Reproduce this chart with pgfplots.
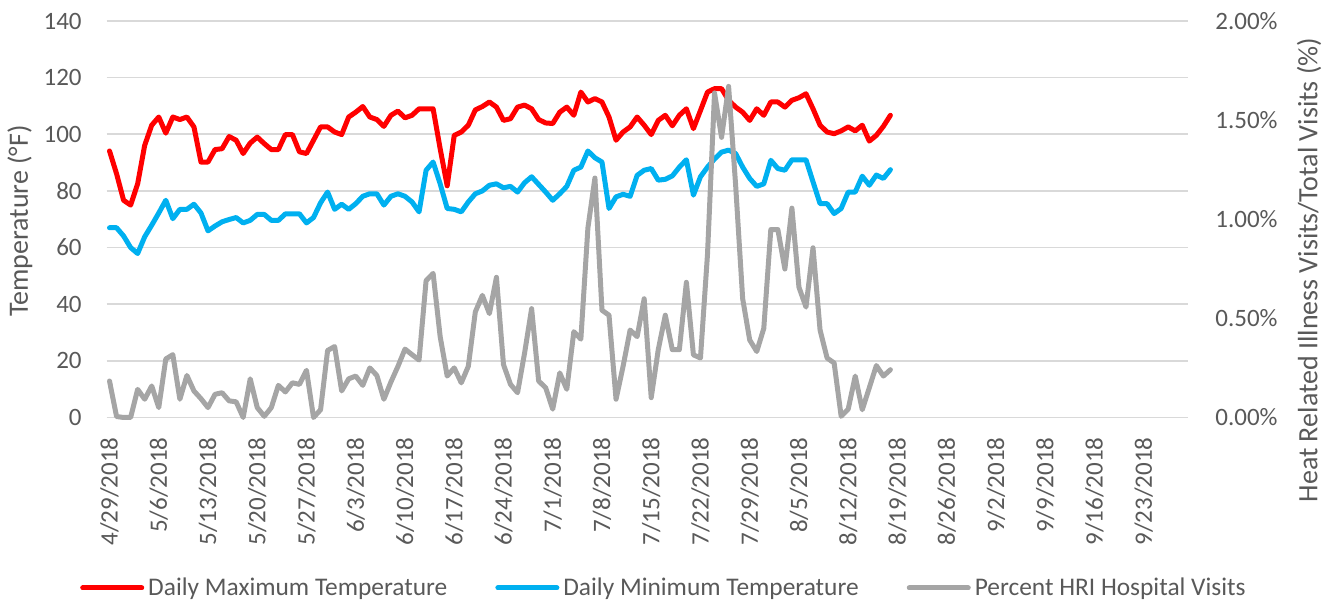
\documentclass[border=0pt]{standalone}
\usepackage{pgfplots}
\pgfplotsset{compat=1.18}
\usepackage{fontspec}
\setmainfont{Carlito}
\definecolor{txt}{HTML}{595959}
\definecolor{gridc}{HTML}{D9D9D9}
\definecolor{cmax}{HTML}{FF0000}
\definecolor{cmin}{HTML}{00B0F0}
\definecolor{chri}{HTML}{A5A5A5}
\pgfplotstableread{
d tmax tmin
0 94.1 67.0
1 86.1 67.0
2 76.7 64.1
3 75.0 60.0
4 82.5 57.9
5 96.1 63.8
6 103.2 67.9
7 106.1 72.2
8 100.4 76.7
9 106.1 70.2
10 105.2 73.5
11 106.1 73.5
12 102.6 75.3
13 90.2 72.2
14 90.2 65.9
15 94.6 67.6
16 94.9 69.1
17 99.2 69.9
18 97.9 70.6
19 93.2 68.7
20 96.9 69.6
21 99.0 71.7
22 96.7 71.7
23 94.6 69.6
24 94.6 69.6
25 99.9 71.9
26 99.9 71.9
27 93.8 71.9
28 93.2 68.7
29 97.9 70.6
30 102.6 75.8
31 102.6 79.6
32 100.8 73.5
33 99.9 75.3
34 106.1 73.5
35 107.8 75.5
36 109.8 78.1
37 106.1 79.0
38 105.2 79.0
39 102.8 75.0
40 106.7 78.1
41 108.2 79.0
42 105.8 78.1
43 106.7 76.1
44 109.0 72.6
45 109.0 87.3
46 109.0 90.2
47 94.9 82.5
48 81.8 73.8
49 99.6 73.5
50 100.8 72.6
51 103.2 76.1
52 108.6 79.0
53 109.8 80.0
54 111.4 82.0
55 109.6 82.5
56 104.9 81.1
57 105.5 81.6
58 109.6 79.6
59 110.3 82.9
60 109.0 85.0
61 105.2 82.3
62 104.0 79.6
63 103.8 76.7
64 107.8 79.0
65 109.6 81.6
66 106.7 87.3
67 114.9 88.4
68 111.4 94.1
69 112.6 91.7
70 111.4 90.2
71 106.1 73.8
72 97.9 77.9
73 100.8 78.8
74 102.6 78.1
75 106.1 85.5
76 103.2 87.3
77 99.9 87.9
78 104.9 83.8
79 106.7 84.1
80 103.0 85.3
81 106.7 88.4
82 109.0 91.0
83 102.0 78.5
84 108.4 85.0
85 114.9 88.4
86 116.1 91.3
87 116.1 93.7
88 112.0 94.4
89 109.6 93.2
90 107.8 88.4
91 104.9 84.4
92 109.0 81.6
93 106.7 82.5
94 111.4 90.8
95 111.4 87.9
96 109.6 87.3
97 112.0 91.0
98 112.9 91.0
99 114.3 91.0
100 109.0 83.2
101 103.2 75.5
102 100.8 75.5
103 100.2 72.0
104 101.2 73.8
105 102.6 79.6
106 101.2 79.6
107 103.2 85.2
108 97.6 82.0
109 99.6 85.6
110 102.8 84.4
111 106.7 87.5
}\temps
\pgfplotstableread{
d hri
0 0.184
1 0.005
2 0.0
3 0.0
4 0.142
5 0.092
6 0.159
7 0.05
8 0.295
9 0.317
10 0.092
11 0.212
12 0.134
13 0.095
14 0.05
15 0.117
16 0.125
17 0.084
18 0.079
19 0.0
20 0.195
21 0.05
22 0.006
23 0.05
24 0.162
25 0.129
26 0.175
27 0.167
28 0.238
29 0.0
30 0.039
31 0.338
32 0.358
33 0.134
34 0.195
35 0.209
36 0.162
37 0.25
38 0.212
39 0.092
40 0.179
41 0.258
42 0.345
43 0.317
44 0.29
45 0.69
46 0.727
47 0.408
48 0.209
49 0.25
50 0.175
51 0.258
52 0.533
53 0.616
54 0.524
55 0.707
56 0.267
57 0.167
58 0.125
59 0.325
60 0.549
61 0.184
62 0.15
63 0.042
64 0.225
65 0.142
66 0.433
67 0.395
68 0.956
69 1.208
70 0.541
71 0.516
72 0.092
73 0.258
74 0.441
75 0.408
76 0.599
77 0.1
78 0.342
79 0.516
80 0.342
81 0.342
82 0.682
83 0.316
84 0.3
85 0.823
86 1.637
87 1.413
88 1.67
89 1.172
90 0.599
91 0.391
92 0.333
93 0.449
94 0.948
95 0.948
96 0.749
97 1.056
98 0.657
99 0.557
100 0.856
101 0.441
102 0.3
103 0.275
104 0.006
105 0.042
106 0.209
107 0.039
108 0.15
109 0.262
110 0.209
111 0.241
}\hri
\begin{document}
\begin{tikzpicture}
\path[use as bounding box] (-53.35pt,-92.75pt) rectangle (611.65pt,208.75pt);
\pgfplotsset{
  base/.style={
    width=540.65pt, height=198.25pt, scale only axis,
    at={(0pt,0pt)}, anchor=south west,
    xmin=-0.4, xmax=153.3,
    axis line style={draw=none}, major tick length=0pt,
    tick label style={font=\fontsize{12.5}{15}\selectfont, text=txt},
    label style={font=\fontsize{14}{17}\selectfont, text=txt},
    /pgf/number format/assume math mode=true,
    clip=false,
  },
  ln/.style={line width=2.5pt, line join=round, line cap=round},
}
\begin{axis}[base,
  ymin=0, ymax=140, ytick={0,20,...,140},
  ymajorgrids, grid style={draw=gridc, line width=0.8pt},
  xtick={0,7,...,147},
  xticklabels={4/29/2018,5/6/2018,5/13/2018,5/20/2018,5/27/2018,6/3/2018,6/10/2018,6/17/2018,6/24/2018,7/1/2018,7/8/2018,7/15/2018,7/22/2018,7/29/2018,8/5/2018,8/12/2018,8/19/2018,8/26/2018,9/2/2018,9/9/2018,9/16/2018,9/23/2018},
  yticklabel style={anchor=east, inner sep=0pt, xshift=-12.35pt},
  xticklabel style={rotate=90, anchor=east, inner sep=0pt, xshift=-9.75pt},
  ylabel={Temperature (°F)},
  ylabel style={at={(axis description cs:-0.0802,0.4956)}, rotate=0, anchor=center, inner sep=0pt},
]
\addplot[ln, cmax] table[x=d, y=tmax] {\temps};
\addplot[ln, cmin] table[x=d, y=tmin] {\temps};
\end{axis}
\begin{axis}[base,
  ymin=0, ymax=2, ytick={0,0.5,1,1.5,2},
  yticklabels={0.00\%,0.50\%,1.00\%,1.50\%,2.00\%},
  yticklabel pos=right,
  hide x axis,
  yticklabel style={anchor=west, inner sep=0pt, xshift=13.5pt},
  ylabel={Heat Related Illness Visits/Total Visits (\%)},
  ylabel style={at={(axis description cs:1.1119,0.372)}, rotate=0, anchor=center, inner sep=0pt},
  legend columns=3,
  legend style={at={(axis description cs:0.5163,-0.43)}, anchor=center, draw=none, fill=none,
    font=\fontsize{12.7}{15}\selectfont, text=txt, inner sep=0pt,
    /tikz/every even column/.append style={column sep=22pt},
    nodes={inner sep=2pt}},
  legend image code/.code={\draw[#1] (0pt,0pt) -- (29.5pt,0pt);},
]
\addlegendimage{ln, cmax}
\addlegendimage{ln, cmin}
\addplot[ln, chri] table[x=d, y=hri] {\hri};
\legend{Daily Maximum Temperature, Daily Minimum Temperature, Percent HRI Hospital Visits}
\end{axis}
\end{tikzpicture}
\end{document}
